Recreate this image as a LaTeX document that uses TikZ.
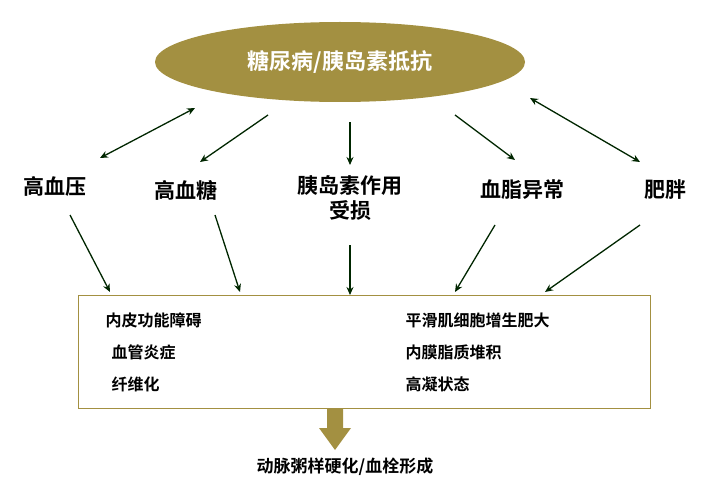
\documentclass[tikz,border=0pt]{standalone}
\usepackage{fontspec}
\setmainfont{Noto Sans CJK SC}[BoldFont={Noto Sans CJK SC Bold}]
\usetikzlibrary{shapes.geometric,arrows.meta}
\begin{document}
\begin{tikzpicture}[x=1pt,y=-1pt,
        lbl/.style={font=\bfseries\fontsize{21}{25}\selectfont,align=center},
        item/.style={font=\bfseries\fontsize{16}{19}\selectfont,anchor=west},
        arr/.style={-{Stealth[length=8pt,width=7pt]},line width=1.3pt,draw=black!85!green}
    ]
    \colorlet{olv}{yellow!55!black!90!red}
    \useasboundingbox (0,0) rectangle (727,500);

    \node (dm) [ellipse,fill=olv,minimum width=370pt,minimum height=80pt,
        text=white,font=\bfseries\fontsize{22}{26}\selectfont] at (340,62) {糖尿病/胰岛素抵抗};

    \node (hbp) [lbl] at (55,186)  {高血压};
    \node (hbg) [lbl] at (186,190) {高血糖};
    \node (ins) [lbl] at (350,198) {胰岛素作用\\受损};
    \node (lip) [lbl] at (522,190) {血脂异常};
    \node (obe) [lbl] at (665,190) {肥胖};

    \coordinate (a1) at (100,158); \coordinate (b1) at (195,108);
    \coordinate (a2) at (268,115); \coordinate (b2) at (200,162);
    \coordinate (a3) at (350,122); \coordinate (b3) at (350,165);
    \coordinate (a4) at (455,115); \coordinate (b4) at (515,160);
    \coordinate (a5) at (530,98);  \coordinate (b5) at (640,162);
    \draw [arr,{Stealth[length=8pt,width=7pt]}-{Stealth[length=8pt,width=7pt]}] (a1) -- (b1);
    \draw [arr] (a2) -- (b2);
    \draw [arr] (a3) -- (b3);
    \draw [arr] (a4) -- (b4);
    \draw [arr,{Stealth[length=8pt,width=7pt]}-{Stealth[length=8pt,width=7pt]}] (a5) -- (b5);

    \node (box) [draw=olv,line width=0.8pt,minimum width=572pt,minimum height=113pt] at (364,351.5) {};
    \coordinate (c1) at (70,215);  \coordinate (d1) at (110,292);
    \coordinate (c2) at (215,215); \coordinate (d2) at (240,292);
    \coordinate (c3) at (350,245); \coordinate (d3) at (350,295);
    \coordinate (c4) at (495,225); \coordinate (d4) at (455,292);
    \coordinate (c5) at (640,225); \coordinate (d5) at (545,292);
    \foreach \i in {1,...,5}
        \draw [arr] (c\i) -- (d\i);

    \node [item] at (102,320) {内皮功能障碍};
    \node [item] at (108,352) {血管炎症};
    \node [item] at (108,384) {纤维化};
    \node [item] at (402,320) {平滑肌细胞增生肥大};
    \node [item] at (402,352) {内膜脂质堆积};
    \node [item] at (402,384) {高凝状态};

    \fill [olv] (327,408) -- (343,408) -- (343,428) -- (351,428) -- (335,450)
        -- (319,428) -- (327,428) -- cycle;
    \node (out) [font=\bfseries\fontsize{17}{20}\selectfont] at (345,467) {动脉粥样硬化/血栓形成};
\end{tikzpicture}
\end{document}
